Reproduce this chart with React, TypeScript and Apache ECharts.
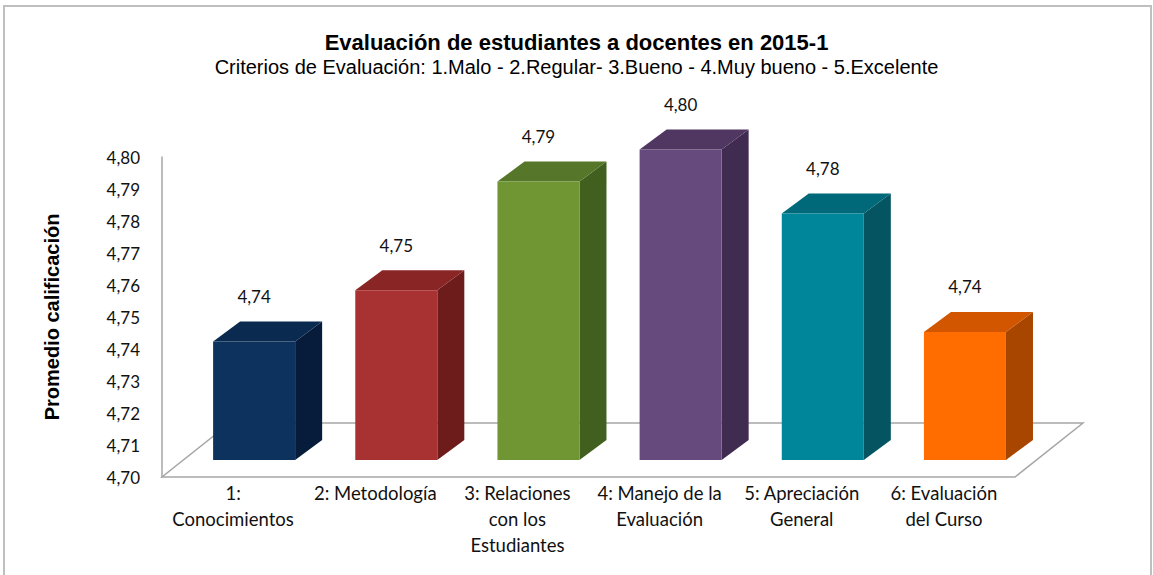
import React, { useEffect, useRef } from "react";
import * as echarts from "echarts";

const categories = [
  "1:\nConocimientos",
  "2: Metodología",
  "3: Relaciones\ncon los\nEstudiantes",
  "4: Manejo de la\nEvaluación",
  "5: Apreciación\nGeneral",
  "6: Evaluación\ndel Curso",
];
const values = [4.737, 4.753, 4.787, 4.797, 4.777, 4.74];
const frontColors = ["#0e325e", "#a83232", "#709634", "#664a7d", "#00869a", "#ff6d01"];
const topColors = ["#0b2a50", "#8a2525", "#567729", "#4f3761", "#006979", "#d25600"];
const sideColors = ["#071c3a", "#6d1b1b", "#41601f", "#402b51", "#045461", "#a84600"];
const yMin = 4.7;
const yMax = 4.8;
const yStep = 0.01;

const fmt = (v: number) => v.toFixed(2).replace(".", ",");

export default function App() {
  const ref = useRef<HTMLDivElement>(null);
  useEffect(() => {
    document.body.style.margin = "0";
    const chart = echarts.init(ref.current!, null, { renderer: "svg" });
    const option: any = {
      animation: false,
      backgroundColor: "#ffffff",
      title: {
        text: "Evaluación de estudiantes a docentes en 2015-1",
        subtext: "Criterios de Evaluación: 1.Malo - 2.Regular- 3.Bueno - 4.Muy bueno - 5.Excelente",
        left: "center",
        top: 25,
        itemGap: 2,
        textStyle: {
          fontFamily: "Liberation Sans",
          fontWeight: "bold",
          fontSize: 22,
          lineHeight: 24,
          color: "#000000",
        },
        subtextStyle: {
          fontFamily: "Liberation Sans",
          fontSize: 20,
          lineHeight: 22,
          color: "#000000",
        },
      },
      graphic: [
        {
          type: "rect",
          shape: { x: 4, y: 6, width: 1147, height: 620 },
          style: { fill: "none", stroke: "#bfbfbf", lineWidth: 2 },
          silent: true,
        },
      ],
      grid: { left: 162, right: 138, top: 157, bottom: 98 },
      xAxis: {
        type: "category",
        data: categories,
        axisLine: { show: false },
        axisTick: { show: false },
        axisLabel: {
          interval: 0,
          margin: 3,
          fontFamily: "Lato",
          fontSize: 18.5,
          lineHeight: 26,
          color: "#111111",
          verticalAlign: "top",
        },
      },
      yAxis: {
        type: "value",
        min: yMin,
        max: yMax,
        interval: yStep,
        name: "Promedio calificación",
        nameLocation: "middle",
        nameRotate: 90,
        nameGap: 100,
        nameTextStyle: {
          fontFamily: "Liberation Sans",
          fontWeight: "bold",
          fontSize: 20,
          color: "#000000",
        },
        axisLine: { show: true, lineStyle: { color: "#a6a6a6", width: 1.5 } },
        axisTick: { show: false },
        splitLine: { show: false },
        axisLabel: {
          margin: 22,
          fontFamily: "Lato",
          fontSize: 17,
          color: "#111111",
          formatter: (v: number) => fmt(v),
        },
      },
      series: [
        {
          type: "custom",
          z: 1,
          data: [[0, yMin]],
          renderItem: (params: any, api: any) => {
            const cs = params.coordSys;
            const band = api.size([1, 0])[0];
            const dx = band * 0.478;
            const dy = band * 0.38;
            const x0 = cs.x;
            const x1 = cs.x + cs.width;
            const yb = cs.y + cs.height;
            return {
              type: "polygon",
              shape: {
                points: [
                  [x0, yb],
                  [x1, yb],
                  [x1 + dx, yb - dy],
                  [x0 + dx, yb - dy],
                ],
              },
              style: { fill: "#ffffff", stroke: "#a6a6a6", lineWidth: 1.5 },
              silent: true,
            };
          },
        },
        {
          type: "custom",
          z: 2,
          data: values.map((v, i) => [i, v]),
          renderItem: (params: any, api: any) => {
            const i = api.value(0);
            const v = api.value(1);
            const base = api.coord([i, yMin]);
            const top = api.coord([i, v]);
            const band = api.size([1, 0])[0];
            const bw = band * 0.577;
            const offX = band * 0.148;
            const offY = band * 0.12;
            const ddx = band * 0.19;
            const ddy = band * 0.141;
            const x0 = base[0] - bw / 2 + offX;
            const x1 = x0 + bw;
            const yb = base[1] - offY;
            const yt = top[1] - offY;
            const idx = params.dataIndex;
            return {
              type: "group",
              children: [
                {
                  type: "polygon",
                  shape: {
                    points: [
                      [x1, yb],
                      [x1, yt],
                      [x1 + ddx, yt - ddy],
                      [x1 + ddx, yb - ddy],
                    ],
                  },
                  style: { fill: sideColors[idx] },
                },
                {
                  type: "polygon",
                  shape: {
                    points: [
                      [x0, yt],
                      [x1, yt],
                      [x1 + ddx, yt - ddy],
                      [x0 + ddx, yt - ddy],
                    ],
                  },
                  style: { fill: topColors[idx] },
                },
                {
                  type: "rect",
                  shape: { x: x0, y: yt, width: bw, height: yb - yt },
                  style: { fill: frontColors[idx] },
                },
                {
                  type: "text",
                  x: (x0 + x1) / 2,
                  y: yt - ddy - 25,
                  style: {
                    text: fmt(v),
                    fontFamily: "Lato",
                    fontSize: 17,
                    fill: "#111111",
                    align: "center",
                    verticalAlign: "middle",
                  },
                },
              ],
            };
          },
        },
      ],
    };
    chart.setOption(option);
    return () => chart.dispose();
  }, []);
  return <div ref={ref} style={{ width: 1153, height: 575 }} />;
}
